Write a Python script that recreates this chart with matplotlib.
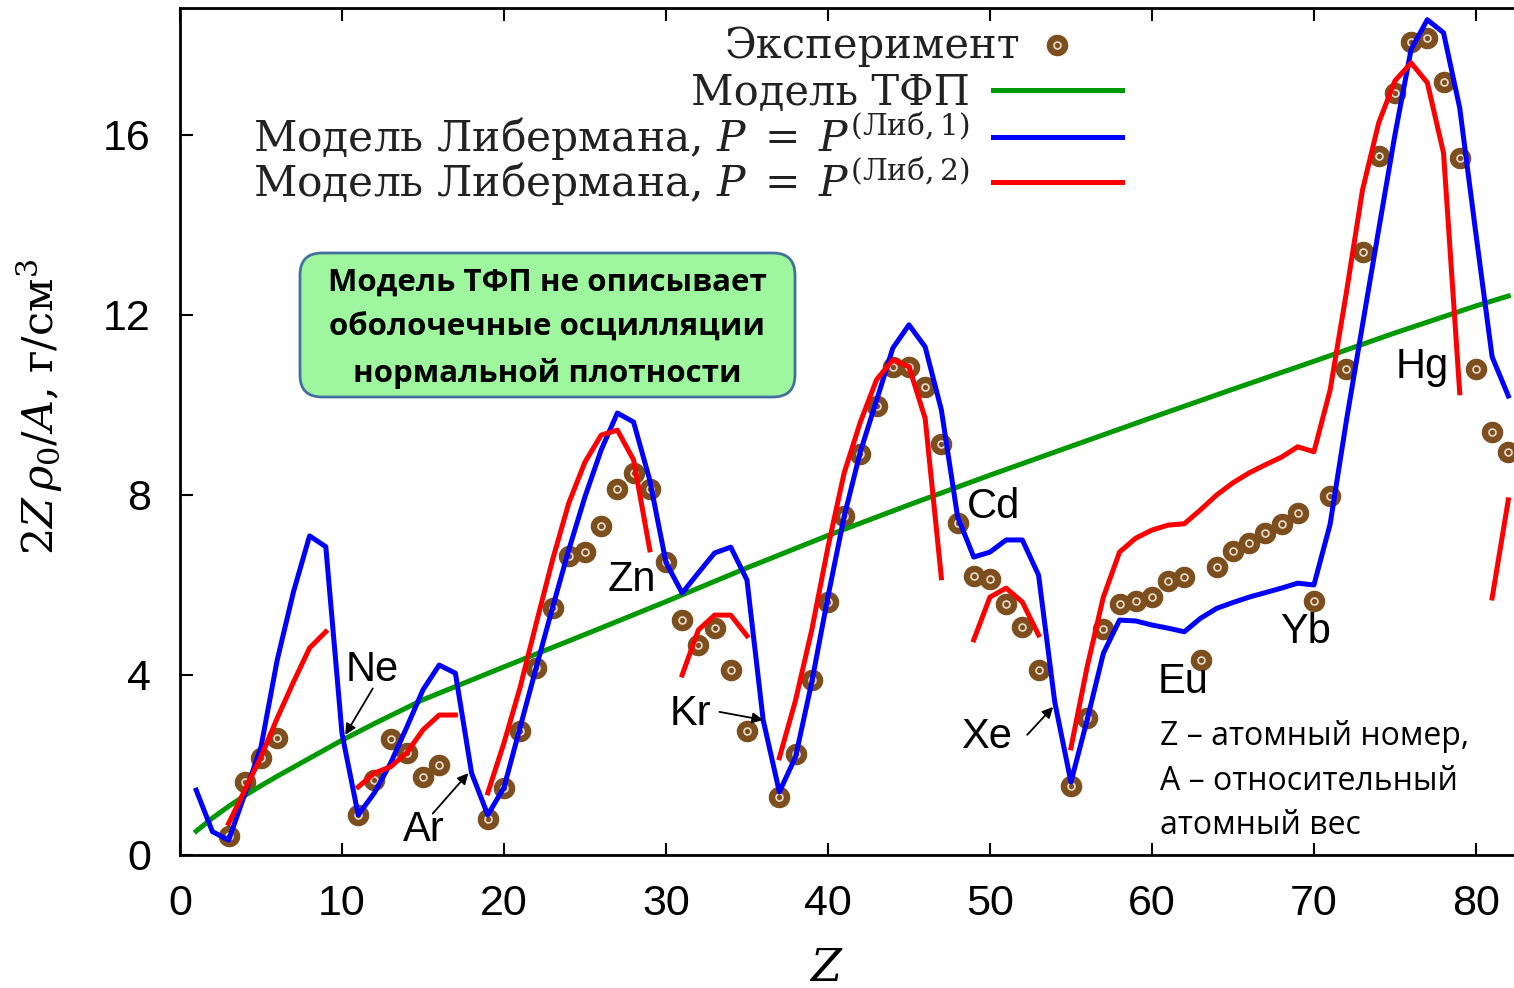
import numpy as np
import matplotlib
matplotlib.use("Agg")
import matplotlib.pyplot as plt
from matplotlib.patches import FancyBboxPatch
from matplotlib.lines import Line2D
from matplotlib.transforms import IdentityTransform

plt.rcParams['font.family'] = 'Liberation Sans'
plt.rcParams['mathtext.fontset'] = 'dejavuserif'

# --- experimental points: 2Z*rho0/A, g/cm^3 ---
exp_z = [3, 4, 5, 6,
         11, 12, 13, 14, 15, 16,
         19, 20, 21, 22, 23, 24, 25, 26, 27, 28, 29, 30,
         31, 32, 33, 34, 35,
         37, 38, 39, 40, 41, 42, 43, 44, 45, 46, 47, 48, 49, 50, 51, 52, 53,
         55, 56, 57, 58, 59, 60, 61, 62, 63, 64, 65, 66, 67, 68, 69, 70,
         71, 72, 73, 74, 75, 76, 77, 78, 79, 80, 81, 82]
exp_rho = [0.42, 1.62, 2.15, 2.60,
           0.89, 1.67, 2.58, 2.26, 1.73, 2.00,
           0.80, 1.49, 2.76, 4.16, 5.49, 6.64, 6.73, 7.31, 8.13, 8.49, 8.13, 6.51,
           5.22, 4.67, 5.04, 4.11, 2.76,
           1.29, 2.24, 3.89, 5.62, 7.53, 8.91, 9.98, 10.84, 10.84, 10.40, 9.13,
           7.38, 6.20, 6.13, 5.58, 5.07, 4.11,
           1.53, 3.04, 5.02, 5.58, 5.64, 5.73, 6.09, 6.18, 4.33, 6.40, 6.76,
           6.93, 7.16, 7.36, 7.60, 5.64,
           7.98, 10.80, 13.40, 15.53, 16.93, 18.07, 18.16, 17.18, 15.49, 10.80,
           9.40, 8.96]

# --- Thomas-Fermi model ---
tf_z = [1, 2, 3, 4, 5, 6, 7, 8, 10, 12, 15, 20, 25, 30, 35, 40, 45, 50,
        55, 60, 65, 70, 75, 80, 82]
tf_rho = [0.53, 0.82, 1.08, 1.32, 1.54, 1.75, 1.95, 2.15, 2.55, 2.92, 3.45,
          4.18, 4.90, 5.63, 6.38, 7.10, 7.78, 8.44, 9.08, 9.72, 10.35, 10.97,
          11.60, 12.20, 12.42]

# --- Liberman model, P = P(Lib,1) ---
lib1_z = list(range(1, 83))
lib1_rho = [1.44, 0.52, 0.33, 1.35, 2.40, 4.33, 5.84, 7.09, 6.85, 2.70,
            0.89, 1.38, 2.04, 2.84, 3.67, 4.22, 4.04, 1.82, 0.89, 1.50,
            2.84, 4.18, 5.50, 6.78, 7.96, 9.00, 9.82, 9.62, 8.33, 6.50,
            5.82, 6.27, 6.71, 6.84, 6.11, 3.00, 1.40, 2.18, 3.84, 5.74,
            7.52, 8.96, 10.10, 11.26, 11.78, 11.29, 9.89, 7.52, 6.62, 6.73,
            7.00, 7.00, 6.22, 3.40, 1.62, 3.00, 4.48, 5.22, 5.20, 5.11,
            5.04, 4.96, 5.26, 5.48, 5.61, 5.73, 5.83, 5.93, 6.04, 6.00,
            7.35, 9.64, 11.78, 13.90, 16.00, 17.90, 18.56, 18.27, 16.60, 13.80,
            11.07, 10.20]

# --- Liberman model, P = P(Lib,2); nan marks a break in the curve ---
nan = np.nan
lib2_z = list(range(3, 83))
lib2_rho = [0.70, 1.44, 2.18, 3.04, 3.84, 4.60, 4.96, nan,
            1.51, 1.82, 1.96, 2.27, 2.78, 3.11, 3.11, nan,
            1.38, 2.49, 3.73, 5.16, 6.56, 7.82, 8.73, 9.33, 9.44, 8.78, 6.78, nan,
            4.00, 5.00, 5.33, 5.33, 4.87, nan,
            2.16, 3.44, 5.00, 6.84, 8.49, 9.62, 10.56, 11.00, 10.85, 9.70, 6.16, nan,
            4.78, 5.73, 5.93, 5.62, 4.89, nan,
            2.38, 4.18, 5.73, 6.73, 7.04, 7.22, 7.33, 7.36, 7.67, 8.00, 8.27,
            8.49, 8.67, 8.84, 9.07, 8.96, 10.33, 12.49, 14.78, 16.27, 17.20,
            17.60, 17.16, 15.60, 10.27, nan,
            5.71, 7.89]

# element labels: (name, text x, text y, arrow tail, arrow head)
elements = [
    ("Ne", 11.85, 4.12, (11.9, 3.70), (10.2, 2.67)),
    ("Ar", 15.06, 0.56, (15.6, 0.92), (17.8, 1.82)),
    ("Zn", 27.9, 6.12, None, None),
    ("Kr", 31.48, 3.14, (33.3, 3.18), (36.0, 3.00)),
    ("Cd", 50.19, 7.74, None, None),
    ("Xe", 49.81, 2.63, (52.3, 2.67), (53.9, 3.29)),
    ("Eu", 61.91, 3.85, None, None),
    ("Yb", 69.51, 4.96, None, None),
    ("Hg", 76.67, 10.85, None, None),
]

BROWN = '#7d4f1e'
GREEN = '#009900'
BLUE = '#0000ff'
RED = '#ff0000'
SERIF = 'DejaVu Serif'

fig = plt.figure(figsize=(15.14, 9.88), dpi=100)
ax = fig.add_axes([0.11889, 0.13462, 0.8811, 0.85729])
ax.set_xlim(0, 82.35)
ax.set_ylim(0, 18.82)

# experiment: brown dots with a small light ring inside
ax.plot(exp_z, exp_rho, 'o', color=BROWN, ms=14.5, mec=BROWN, zorder=2)
ax.plot(exp_z, exp_rho, 'o', mfc='none', mec='#e8dccc', ms=5, mew=1.2, zorder=2)

ax.plot(tf_z, tf_rho, color=GREEN, lw=3.6, zorder=3)
ax.plot(lib1_z, lib1_rho, color=BLUE, lw=3.6, zorder=3)
ax.plot(lib2_z, lib2_rho, color=RED, lw=3.6, zorder=3)

# axes look: box on left/top/bottom, inward ticks
for side in ('left', 'bottom', 'top'):
    ax.spines[side].set_linewidth(2.0)
ax.spines['right'].set_visible(False)
ax.set_xticks(range(0, 81, 10))
ax.set_yticks(range(0, 17, 4))
ax.tick_params(axis='both', direction='in', length=9, width=1.5,
               labelsize=31, top=True, right=False)
ax.tick_params(axis='y', pad=21)
ax.tick_params(axis='x', pad=21)

fig.text(826 / 1514, 1 - 968 / 988, r'$Z$', fontsize=32, family=SERIF,
         ha='center', va='center')
fig.text(40 / 1514, 1 - 407 / 988, r'$2Z\,\rho_0/A$, г/см$^3$', fontsize=31,
         family=SERIF, rotation=90, ha='center', va='center')

# key, right-aligned text with samples to the right
W, H = 1334.0, 847.0
def fx(px):
    return (px - 180) / W
def fy(py):
    return (855 - py) / H

key = [
    ("Эксперимент", 58, None, 30),
    ("Модель ТФП", 105, GREEN, 30),
    (r"Модель Либермана, $P\;=\;P^{(\mathrm{Либ},1)}$", 152, BLUE, 30.5),
    (r"Модель Либермана, $P\;=\;P^{(\mathrm{Либ},2)}$", 197, RED, 30.5),
]
for label, base, col, fs in key:
    if col is None:
        ax.text(fx(1020), fy(base), label, transform=ax.transAxes,
                ha='right', va='baseline', fontsize=fs, family=SERIF,
                color='#222222')
        ax.add_line(Line2D([fx(1057)], [fy(45)], transform=ax.transAxes,
                           marker='o', color=BROWN, ms=14.5, ls='none'))
        ax.add_line(Line2D([fx(1057)], [fy(45)], transform=ax.transAxes,
                           marker='o', mfc='none', mec='#e8dccc', ms=5,
                           mew=1.2, ls='none'))
    else:
        ax.text(fx(970), fy(base), label, transform=ax.transAxes,
                ha='right', va='baseline', fontsize=fs, family=SERIF,
                color='#222222')
        ax.add_line(Line2D([fx(993), fx(1122)], [fy(base - 15)] * 2,
                           transform=ax.transAxes, color=col, lw=3.6))

# element labels with arrows
for name, tx, ty, tail, head in elements:
    ax.text(tx, ty, name, fontsize=30, ha='center', va='center',
            family='Liberation Sans', zorder=5)
    if tail is not None:
        ax.annotate('', xy=head, xytext=tail,
                    arrowprops=dict(arrowstyle='-|>', color='black', lw=1.3,
                                    mutation_scale=16, shrinkA=0, shrinkB=0),
                    zorder=5)

# callout box
box = FancyBboxPatch((300, 988 - 397), 495, 144,
                     boxstyle="round,pad=0,rounding_size=22",
                     transform=IdentityTransform(), fc='#9ef79e',
                     ec='#41719c', lw=2, zorder=6)
fig.patches.append(box)
box_lines = ["Модель ТФП не описывает", "оболочечные осцилляции",
             "нормальной плотности"]
for i, line in enumerate(box_lines):
    fig.text(547 / 1514, 1 - (283 + 45 * i) / 988, line, fontsize=22.5,
             weight='bold', family='Open Sans', ha='center', va='center',
             zorder=7)

# notation note
note = ["Z – атомный номер,", "A – относительный", "атомный вес"]
for i, line in enumerate(note):
    fig.text(1160 / 1514, 1 - (736 + 45 * i) / 988, line, fontsize=23,
             family='Open Sans', ha='left', va='center')

fig.savefig('out.png', dpi=100, facecolor='white')
